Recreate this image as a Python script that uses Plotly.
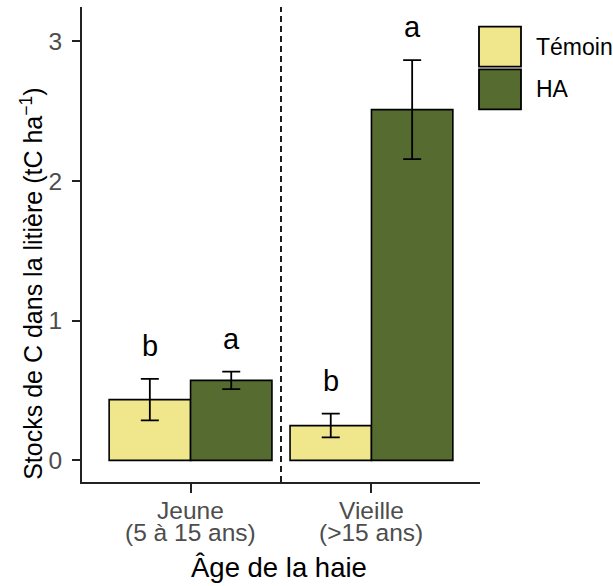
import plotly.graph_objects as go

# Hedge age classes and their two-line axis labels
ages = ["Jeune", "Vieille"]
age_line1 = ["Jeune", "Vieille"]
age_line2 = ["(5 à 15 ans)", "(>15 ans)"]

# Litter carbon stocks (tC/ha): mean and standard error per treatment
temoin_mean = [0.435, 0.249]
temoin_se = [0.148, 0.085]
ha_mean = [0.573, 2.512]
ha_se = [0.063, 0.355]

# Letters from the post-hoc comparison
temoin_letters = ["b", "b"]
ha_letters = ["a", "a"]

series_names = ["Témoin", "HA"]
colors = ["#F0E68C", "#556B2F"]

W, H = 613, 586
ML, MR, MT, MB = 82, 133, 7, 104
PW, PH = W - ML - MR, H - MT - MB


def px_x(p):
    return (p - ML) / PW


def px_y(p):
    return 1 - (p - MT) / PH


xpos = [i + 1 for i in range(len(ages))]
BAR_W = 0.45

fig = go.Figure()
for name, means, ses, col in [
    (series_names[0], temoin_mean, temoin_se, colors[0]),
    (series_names[1], ha_mean, ha_se, colors[1]),
]:
    fig.add_trace(go.Bar(
        x=xpos, y=means, name=name,
        marker=dict(color=col, line=dict(color="black", width=1.6)),
        error_y=dict(type="data", array=ses, visible=True,
                     color="black", thickness=1.8, width=9),
        showlegend=False,
    ))

annotations = []
# significance letters above error bars
for means, ses, letters, off in [
    (temoin_mean, temoin_se, temoin_letters, -BAR_W / 2),
    (ha_mean, ha_se, ha_letters, BAR_W / 2),
]:
    for xp, m, s, lt in zip(xpos, means, ses, letters):
        annotations.append(dict(
            x=xp + off, y=m + s + 0.235, xref="x", yref="y",
            text=lt, showarrow=False, yanchor="middle", xanchor="center",
            font=dict(family="Liberation Sans, Arial", size=29, color="black"),
        ))

# two-line category labels
for xp, l1, l2 in zip(xpos, age_line1, age_line2):
    for txt, ypx in [(l1, 510.5), (l2, 532.5)]:
        annotations.append(dict(
            x=xp, y=px_y(ypx), xref="x", yref="paper",
            text=txt, showarrow=False, yanchor="middle", xanchor="center",
            font=dict(family="Liberation Sans, Arial", size=24.5, color="#4D4D4D"),
        ))

# axis titles
annotations.append(dict(
    x=px_x(279), y=px_y(567.3), xref="paper", yref="paper",
    text="Âge de la haie", showarrow=False, xanchor="center", yanchor="middle",
    font=dict(family="Liberation Sans, Arial", size=27.5, color="black"),
))
annotations.append(dict(
    x=px_x(31.3), y=px_y(283.5), xref="paper", yref="paper",
    text="Stocks de C dans la litière (tC ha<sup>−1</sup>)", textangle=-90,
    showarrow=False, xanchor="center", yanchor="middle",
    font=dict(family="Liberation Sans, Arial", size=25, color="black"),
))

# legend
shapes = []
legend_rows = [(26.7, 66.7), (69.3, 109.3)]
for (y0, y1), name, col in zip(legend_rows, series_names, colors):
    shapes.append(dict(
        type="rect", xref="paper", yref="paper",
        x0=px_x(479), x1=px_x(521), y0=px_y(y1), y1=px_y(y0),
        fillcolor=col, line=dict(color="black", width=1.8), layer="above",
    ))
    annotations.append(dict(
        x=px_x(534), y=px_y((y0 + y1) / 2), xref="paper", yref="paper",
        text=name, showarrow=False, xanchor="left", yanchor="middle",
        font=dict(family="Liberation Sans, Arial", size=23, color="black"),
    ))

# dashed separator between age classes
shapes.append(dict(
    type="line", xref="x", yref="paper", x0=1.5, x1=1.5, y0=0, y1=1,
    line=dict(color="#111", width=1.9, dash="6px,4px"), layer="below",
))

fig.update_layout(
    width=W, height=H, autosize=False,
    margin=dict(l=ML, r=MR, t=MT, b=MB, pad=0),
    plot_bgcolor="white", paper_bgcolor="white",
    barmode="group", bargap=0.1, bargroupgap=0,
    annotations=annotations, shapes=shapes,
    font=dict(family="Liberation Sans, Arial"),
)
fig.update_xaxes(
    range=[0.4, 2.6], tickvals=xpos, showticklabels=False,
    ticks="outside", ticklen=9, tickwidth=1.6, tickcolor="#222",
    showline=True, linecolor="#222", linewidth=1.7,
    showgrid=False, zeroline=False,
)
fig.update_yaxes(
    range=[-0.155, 3.247], tickvals=[0, 1, 2, 3],
    ticks="outside", ticklen=8, tickwidth=1.6, tickcolor="#222",
    ticklabelstandoff=5,
    tickfont=dict(family="Liberation Sans, Arial", size=24.5, color="#4D4D4D"),
    showline=True, linecolor="#222", linewidth=1.7,
    showgrid=False, zeroline=False,
)

fig.write_html("out.html")
